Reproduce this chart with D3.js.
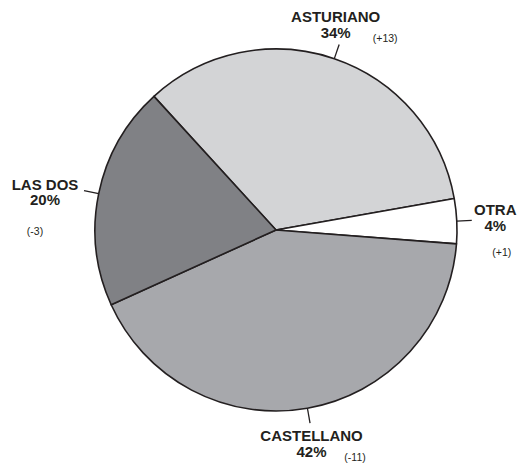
<!DOCTYPE html>
<html>
<head>
<meta charset="utf-8">
<script src="https://cdn.jsdelivr.net/npm/d3@7/dist/d3.min.js"></script>
<style>
  html, body { margin: 0; padding: 0; background: #fff; }
  svg { display: block; }
  text { font-family: "Liberation Sans", Arial, Helvetica, sans-serif; fill: #231f20; }
</style>
</head>
<body>
<svg id="chart" width="517" height="466"></svg>
<script>
// ---- data ----
const categories = ["ASTURIANO", "OTRA", "CASTELLANO", "LAS DOS"];
const values = [34, 4, 42, 20];
const changes = ["(+13)", "(+1)", "(-11)", "(-3)"];

// ---- styles / layout ----
const colors = ["#d3d4d6", "#ffffff", "#a7a8ac", "#808185"];
const W = 517, H = 466;
const cx = 276, cy = 230, R = 181;
const startDeg = -42.4;
// label layout relative to the end of the leader line (dx, dy for name centre; change text offset)
const labelLayout = [
  { name: [-3.5, -22], change: [46, -2], changeAnchor: "middle" },
  { name: [23.5, -5], change: [30, 36], changeAnchor: "middle" },
  { name: [1.5, 18], change: [45, 38], changeAnchor: "middle" },
  { name: [-39, -1], change: [-49, 44], changeAnchor: "middle" }
];

const svg = d3.select("#chart");
const g = svg.append("g").attr("transform", `translate(${cx},${cy})`);

const pie = d3.pie().sort(null).value(d => d.value)
  .startAngle(startDeg * Math.PI / 180)
  .endAngle(startDeg * Math.PI / 180 + 2 * Math.PI);
const data = categories.map((c, i) => ({ cat: c, value: values[i], change: changes[i], i }));
const arcs = pie(data);
const arc = d3.arc().innerRadius(0).outerRadius(R);

g.selectAll("path.slice").data(arcs).enter().append("path")
  .attr("class", "slice")
  .attr("d", arc)
  .attr("fill", d => colors[d.data.i])
  .attr("stroke", "#231f20")
  .attr("stroke-width", 1.6)
  .attr("stroke-linejoin", "round");

const leaderLen = 15;
arcs.forEach(d => {
  const a = (d.startAngle + d.endAngle) / 2;
  const x0 = Math.sin(a) * R, y0 = -Math.cos(a) * R;
  const x1 = Math.sin(a) * (R + leaderLen), y1 = -Math.cos(a) * (R + leaderLen);
  g.append("line")
    .attr("x1", x0).attr("y1", y0).attr("x2", x1).attr("y2", y1)
    .attr("stroke", "#231f20").attr("stroke-width", 1.3);
  const L = labelLayout[d.data.i];
  const tx = x1 + L.name[0], ty = y1 + L.name[1];
  const t = g.append("text")
    .attr("text-anchor", "middle")
    .attr("font-size", "15px")
    .attr("font-weight", "bold");
  t.append("tspan").attr("x", tx).attr("y", ty).text(d.data.cat);
  t.append("tspan").attr("x", tx).attr("y", ty + 15.5).text(d.data.value + "%");
  g.append("text")
    .attr("x", x1 + L.change[0]).attr("y", y1 + L.change[1])
    .attr("text-anchor", L.changeAnchor)
    .attr("font-size", "10.5px")
    .text(d.data.change);
});
</script>
</body>
</html>
